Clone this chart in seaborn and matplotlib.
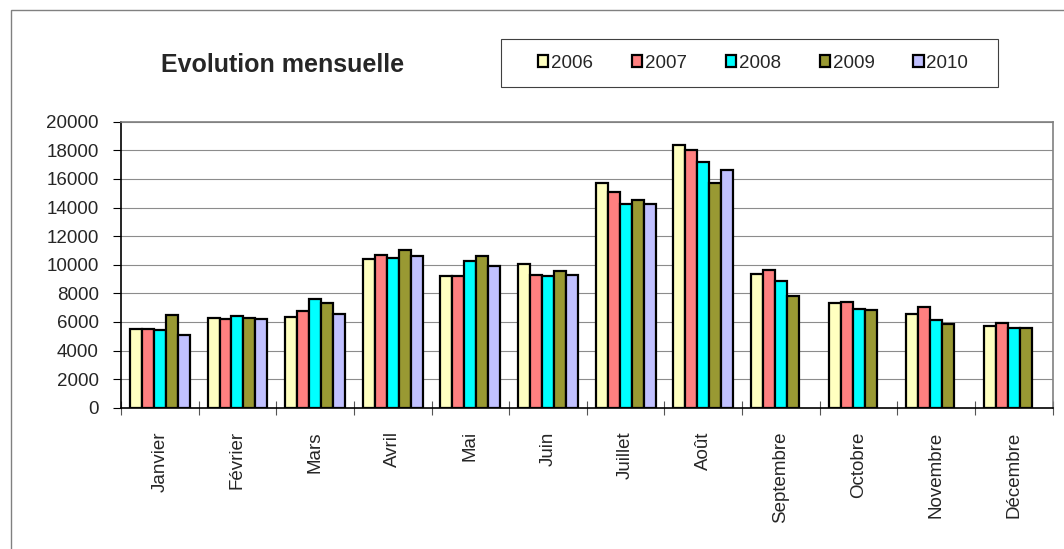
import numpy as np
import pandas as pd
import matplotlib
matplotlib.use("Agg")
import matplotlib.pyplot as plt
from matplotlib.patches import Rectangle
from matplotlib.ticker import FixedLocator, MultipleLocator
import seaborn as sns

# Monthly values
months = ['Janvier', 'Février', 'Mars', 'Avril', 'Mai', 'Juin',
          'Juillet', 'Août', 'Septembre', 'Octobre', 'Novembre', 'Décembre']
years = ['2006', '2007', '2008', '2009', '2010']
v2006 = [5500, 6300, 6350, 10380, 9230, 10070, 15710, 18390, 9350, 7300, 6570, 5730]
v2007 = [5500, 6200, 6760, 10700, 9230, 9260, 15060, 18000, 9610, 7390, 7040, 5940]
v2008 = [5430, 6430, 7580, 10490, 10240, 9210, 14220, 17180, 8880, 6920, 6110, 5590]
v2009 = [6480, 6250, 7300, 11030, 10630, 9560, 14500, 15730, 7830, 6830, 5830, 5590]
v2010 = [5080, 6200, 6550, 10610, 9890, 9280, 14240, 16600, np.nan, np.nan, np.nan, np.nan]
colors = ['#FFFFC0', '#FF8080', '#00FFFF', '#999933', '#C0C0FF']

# Long form table for seaborn
df = pd.DataFrame({'Mois': months * 5,
                   'Année': [y for y in years for _ in months],
                   'Valeur': v2006 + v2007 + v2008 + v2009 + v2010})

sns.set_style('white')
plt.rcParams['font.family'] = ['Liberation Sans', 'DejaVu Sans']

fig = plt.figure(figsize=(10.64, 5.49), dpi=100)
ax = fig.add_axes([121 / 1064, 1 - 407.7 / 549, 931.7 / 1064, 286 / 549])

sns.barplot(data=df, x='Mois', y='Valeur', hue='Année', order=months,
            hue_order=years, palette=dict(zip(years, colors)), width=0.77,
            edgecolor='black', linewidth=1.6, saturation=1, ax=ax)

# Axes styling (Excel look)
ax.set_xlim(-0.5, 11.5)
ax.set_ylim(0, 20000)
ax.yaxis.set_major_locator(MultipleLocator(2000))
ax.grid(axis='y', color='#8c8c8c', linewidth=0.8)
ax.set_axisbelow(True)
ax.set_xlabel('')
ax.set_ylabel('')
for side in ['left', 'bottom']:
    ax.spines[side].set_color('black')
    ax.spines[side].set_linewidth(1.2)
for side in ['top', 'right']:
    ax.spines[side].set_color('#808080')
    ax.spines[side].set_linewidth(1.2)

ax.tick_params(axis='y', labelsize=13.5, length=6, width=0.8, color='black',
               direction='out', pad=10, left=True)
ax.tick_params(axis='x', which='major', labelsize=13.5, length=0, pad=17,
               labelrotation=90)
ax.xaxis.set_minor_locator(FixedLocator(np.arange(-0.5, 12, 1)))
ax.tick_params(axis='x', which='minor', length=10, width=0.8, color='#555555',
               direction='inout', bottom=True)
for lbl in ax.get_xticklabels():
    lbl.set_verticalalignment('top')

# Legend with its own box
handles, labels = ax.get_legend_handles_labels()
ax.get_legend().remove()
leg = fig.legend(handles, labels, ncol=5, loc='center',
                 bbox_to_anchor=(753 / 1064, 1 - 63 / 549),
                 fontsize=13.5, handlelength=0.55, handleheight=0.55,
                 handletextpad=0.15, columnspacing=2.07, borderpad=0,
                 frameon=False)
fig.patches.append(Rectangle((501 / 1064, 1 - 87.3 / 549), 497 / 1064, 48 / 549,
                             transform=fig.transFigure, fill=False,
                             edgecolor='#404040', linewidth=0.8))

fig.text(283 / 1064, 1 - 65 / 549, 'Evolution mensuelle', fontsize=18,
         fontweight='bold', ha='center', va='center')

# Outer chart frame
fig.patches.append(Rectangle((11 / 1064, -0.05), 1.1, 1.05 - 10 / 549,
                             transform=fig.transFigure, fill=False,
                             edgecolor='#808080', linewidth=1))

fig.savefig('out.png', dpi=100)
